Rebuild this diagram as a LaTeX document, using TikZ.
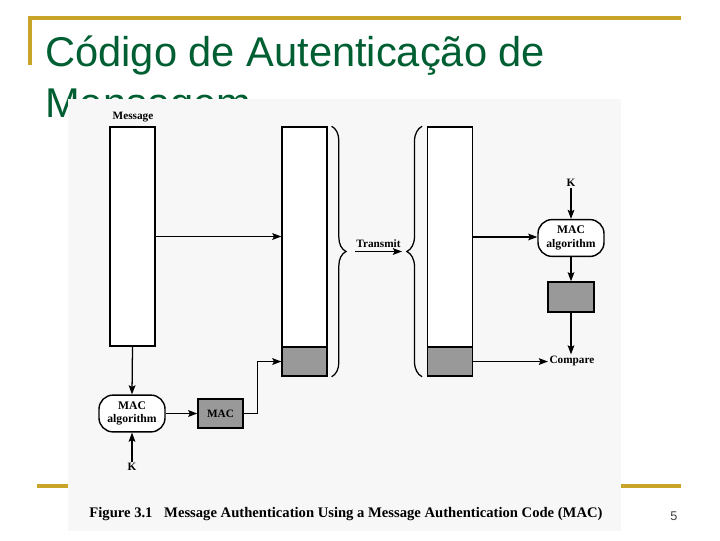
\documentclass[tikz,border=0pt]{standalone}
\usepackage{fontspec}
\setmainfont{Liberation Serif}
\newfontfamily\titlefont{Liberation Sans}
\usetikzlibrary{calc,positioning,arrows.meta,decorations.pathreplacing}
\definecolor{slidegold}{RGB}{200,165,40}
\definecolor{slidegreen}{RGB}{0,95,50}
\definecolor{macgray}{RGB}{153,153,153}
\tikzstyle{bar} = [rectangle, draw=black, line width=1pt, fill=white, inner sep=0pt, minimum width=1.12cm]
\tikzstyle{tag} = [rectangle, draw=black, line width=1pt, fill=macgray, inner sep=0pt, font=\bfseries\fontsize{8}{9}\selectfont]
\tikzstyle{algo} = [rectangle, rounded corners=10pt, draw=black, line width=1pt, fill=white, minimum width=1.65cm, minimum height=0.92cm, inner sep=0pt, align=center, font=\bfseries\fontsize{8.3}{9.8}\selectfont]
\tikzstyle{lbl} = [inner sep=1pt, font=\bfseries\fontsize{8}{9}\selectfont]
\tikzstyle{arrow} = [line width=0.9pt,-{Stealth[length=6.5pt,width=4.8pt,inset=1.2pt]}]
\tikzstyle{gold} = [slidegold, line width=2.2pt]

\begin{document}
\begin{tikzpicture}[x=0.025cm, y=-0.025cm]
      \useasboundingbox (0,0) rectangle (720,540);
      % slide frame
      \draw [gold] (30,65) -- (30,18) -- (681,18);
      \draw [gold] (37,486) -- (681,486);
      \node (title1)[anchor=base west, inner sep=0pt, text=slidegreen, font=\titlefont\fontsize{29.6}{30}\selectfont] at (45,66) {Código de Autenticação de};
      \node (title2)[anchor=base west, inner sep=0pt, text=slidegreen, font=\titlefont\fontsize{29.6}{30}\selectfont] at (45,117) {Mensagem};
      \node (page)[inner sep=0pt, text=black!75, font=\titlefont\fontsize{9}{10}\selectfont] at (674,516) {5};
      % figure panel
      \fill [black!3] (68,99) rectangle (621,531);
      % blocks
      \node (msg)[bar, minimum height=5.475cm] at (132.5,236.5) {};
      \node (msgl)[lbl] at (133,117) {Message};
      \node (mid)[bar, minimum height=5.5cm] at (304.5,237) {};
      \node (midg)[bar, fill=macgray, minimum height=0.725cm, below=-1pt of mid] {};
      \node (rbar)[bar, minimum height=5.5cm] at (450,237) {};
      \node (rbarg)[bar, fill=macgray, minimum height=0.725cm, below=-1pt of rbar] {};
      \node (macl)[algo] at (132,413.5) {MAC\\algorithm};
      \node (kl)[lbl] at (132,467) {K};
      \node (tagl)[tag, minimum width=1.125cm, minimum height=0.725cm] at (220.5,413.5) {MAC};
      \node (kr)[lbl] at (571,183) {K};
      \node (macr)[algo] at (571,238) {MAC\\algorithm};
      \node (tagr)[tag, minimum width=1.15cm, minimum height=0.75cm] at (571,297) {};
      \node (cmp)[lbl] at (572,361) {Compare};
      \node (cap)[inner sep=0pt, font=\bfseries\fontsize{10.4}{12}\selectfont] at (346,514) {Figure 3.1\hspace{0.8em}Message Authentication Using a Message Authentication Code (MAC)};
      \coordinate (tx1) at (355,251.5);
      \coordinate (tx2) at (402,251.5);
      % braces
      \draw [line width=0.9pt, decorate, decoration={brace, amplitude=0.36cm}] ([xshift=0.1cm]mid.north east) -- ([xshift=0.1cm]midg.south east);
      \draw [line width=0.9pt, decorate, decoration={brace, amplitude=0.38cm}] ([xshift=-0.12cm]rbarg.south west) -- ([xshift=-0.12cm]rbar.north west);
      % connectors
      \draw [arrow](msg.east)--(msg.east -| mid.west);
      \draw [arrow](tx1)--(tx2) node[midway, above=1pt, lbl] {Transmit};
      \draw [arrow](rbar.east)--(rbar.east -| macr.west);
      \draw [arrow](msg.south)--(macl.north);
      \draw [arrow](kl.north)--(macl.south);
      \draw [arrow](macl.east)--(tagl.west);
      \draw [arrow](tagl.east) -- ++(14,0) |- (midg.west);
      \draw [arrow](kr.south)--(macr.north);
      \draw [arrow](macr.south)--(tagr.north);
      \draw [arrow](tagr.south)--(tagr.south |- cmp.north);
      \draw [arrow](rbarg.east)--(rbarg.east -| cmp.west);
    \end{tikzpicture}
\end{document}
